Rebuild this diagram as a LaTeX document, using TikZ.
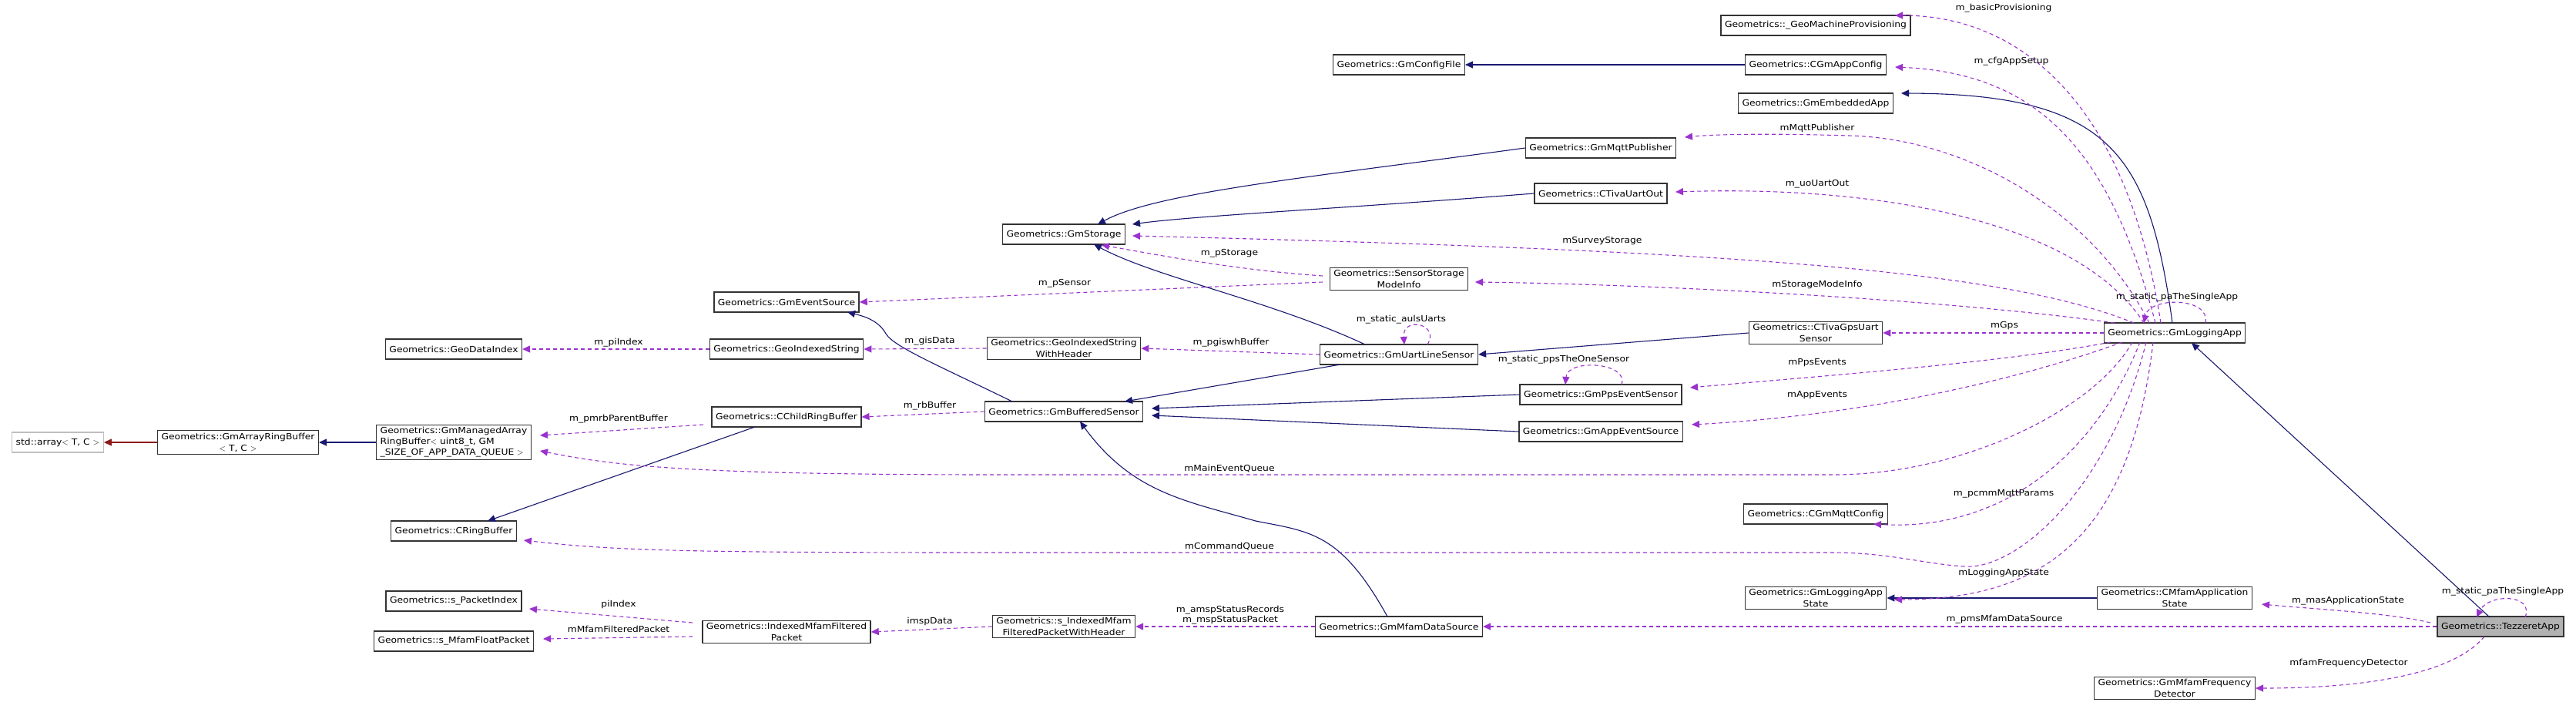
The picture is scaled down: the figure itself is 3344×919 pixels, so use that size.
\documentclass[tikz,border=0pt]{standalone}
\usepackage{fontspec}
\setmainfont[FakeStretch=1.12]{DejaVu Sans}
\usetikzlibrary{arrows.meta}
\definecolor{inh}{HTML}{191970}
\definecolor{comp}{HTML}{9A32CD}
\definecolor{tmpl}{HTML}{8B1A1A}
\begin{document}
\begin{tikzpicture}[x=1pt,y=-1pt,
  box/.style={draw=black!80,line width=1.3pt,fill=white,inner xsep=5pt,inner ysep=3pt,minimum height=26pt,align=center,font=\fontsize{11}{15}\selectfont},
  lbl/.style={font=\fontsize{11}{13}\selectfont,inner sep=1pt},
  tip/.style={-{Triangle[length=10pt,width=9pt]}},
  inhe/.style={tip,draw=inh,line width=1.1pt},
  use/.style={tip,draw=comp,line width=1.1pt,dash pattern=on 5pt off 4pt}]
\fill[white] (0,0) rectangle (3344,919);
\useasboundingbox (0,0) rectangle (3344,919);
% nodes
\node[box,draw=black!25] (arr) at (75,574) {std::array$<$ T, C $>$};
\node[box] (garb) at (309,574) {Geometrics::GmArrayRingBuffer\\$<$ T, C $>$};
\node[box,align=left,font=\fontsize{11}{14}\selectfont] (gmarb) at (589,574) {Geometrics::GmManagedArray\\RingBuffer$<$ uint8\_t, GM\\\_SIZE\_OF\_APP\_DATA\_QUEUE $>$};
\node[box] (gdi) at (589,453) {Geometrics::GeoDataIndex};
\node[box] (crb) at (589,689) {Geometrics::CRingBuffer};
\node[box] (spi) at (589,780) {Geometrics::s\_PacketIndex};
\node[box] (smfp) at (589,832) {Geometrics::s\_MfamFloatPacket};
\node[box] (ges) at (1021,392) {Geometrics::GmEventSource};
\node[box] (gis) at (1021,453) {Geometrics::GeoIndexedString};
\node[box] (ccrb) at (1021,541) {Geometrics::CChildRingBuffer};
\node[box] (imfp) at (1021,820) {Geometrics::IndexedMfamFiltered\\Packet};
\node[box] (gst) at (1381,304) {Geometrics::GmStorage};
\node[box] (giswh) at (1381,452) {Geometrics::GeoIndexedString\\WithHeader};
\node[box] (gbs) at (1381,534) {Geometrics::GmBufferedSensor};
\node[box] (simf) at (1381,813) {Geometrics::s\_IndexedMfam\\FilteredPacketWithHeader};
\node[box] (gcf) at (1816,84) {Geometrics::GmConfigFile};
\node[box] (ssmi) at (1816,362) {Geometrics::SensorStorage\\ModeInfo};
\node[box] (guls) at (1816,460) {Geometrics::GmUartLineSensor};
\node[box] (gmds) at (1816,813) {Geometrics::GmMfamDataSource};
\node[box] (gmp) at (2078,192) {Geometrics::GmMqttPublisher};
\node[box] (ctuo) at (2078,251) {Geometrics::CTivaUartOut};
\node[box] (gpes) at (2078,512) {Geometrics::GmPpsEventSensor};
\node[box] (gaes) at (2078,560) {Geometrics::GmAppEventSource};
\node[box] (gmpv) at (2357,33) {Geometrics::\_GeoMachineProvisioning};
\node[box] (cgac) at (2357,84) {Geometrics::CGmAppConfig};
\node[box] (gea) at (2357,134) {Geometrics::GmEmbeddedApp};
\node[box] (ctgs) at (2357,432) {Geometrics::CTivaGpsUart\\Sensor};
\node[box] (cgmc) at (2357,667) {Geometrics::CGmMqttConfig};
\node[box] (glas) at (2357,776) {Geometrics::GmLoggingApp\\State};
\node[box] (gla) at (2823,432) {Geometrics::GmLoggingApp};
\node[box] (cmas) at (2823,776) {Geometrics::CMfamApplication\\State};
\node[box] (gmfd) at (2823,893) {Geometrics::GmMfamFrequency\\Detector};
\node[box,fill=black!30] (tz) at (3246,813) {Geometrics::TezzeretApp};
% coordinates on boxes
\coordinate (a1) at (2805,419); \coordinate (a2) at (2798,419); \coordinate (a3) at (2820,419);
\coordinate (a4) at (2790,419); \coordinate (a5) at (2783,419); \coordinate (a6) at (2770,419);
\coordinate (a7) at (2745,419);
\coordinate (b1) at (2740,444); \coordinate (b2) at (2755,444); \coordinate (b3) at (2768,444);
\coordinate (b4) at (2778,444); \coordinate (b5) at (2786,444); \coordinate (b6) at (2795,444);
\coordinate (b7) at (2845,445);
% inheritance
\draw[inhe] (cgac.west) -- (gcf.east);
\draw[inhe] (a3) .. controls (2790,200) and (2740,122) .. (2468,121);
\draw[inhe] (gmp.west) .. controls (1700,230) and (1500,250) .. (1425,291);
\draw[inhe] (ctuo.west) .. controls (1750,270) and (1550,280) .. (1470,291);
\draw[inhe] (1772,447) .. controls (1650,390) and (1500,360) .. (1420,317);
\draw[inhe] (ctgs.west) -- (guls.east);
\draw[inhe] (1740,473) -- (1460,521);
\draw[inhe] (gpes.west) -- (1495,530);
\draw[inhe] (gaes.west) -- (1495,539);
\draw[inhe] (1801,800) .. controls (1740,690) and (1700,690) .. (1630,676) .. controls (1540,650) and (1470,640) .. (1402,547);
\draw[inhe] (1314,521) .. controls (1220,475) and (1160,450) .. (1150,433) .. controls (1140,415) and (1120,410) .. (1100,405);
\draw[inhe] (980,554) -- (633,676);
\draw[inhe] (gmarb.west) -- (garb.east);
\draw[tip,draw=tmpl,line width=1.1pt] (garb.west) -- (arr.east);
\draw[inhe] (cmas.west) -- (glas.east);
\draw[inhe] (3232,801) -- (b7);
% usage from GmLoggingApp
\draw[use] (a1) .. controls (2760,130) and (2620,20) .. (2460,20);
\draw[use] (a2) .. controls (2740,200) and (2650,95) .. (2460,87);
\draw[use] (a4) .. controls (2720,280) and (2560,180) .. (2400,176) .. controls (2300,173) and (2230,174) .. (2187,178);
\draw[use] (a5) .. controls (2700,290) and (2450,240) .. (2175,249);
\draw[use] (a6) .. controls (2600,350) and (2250,325) .. (1470,306);
\draw[use] (a7) .. controls (2500,385) and (2100,368) .. (1915,366);
\draw[use] (gla.west) -- (ctgs.east);
\draw[use] (2863,419) .. controls (2870,385) and (2790,385) .. (2783,419);
\draw[use] (b1) .. controls (2600,470) and (2400,485) .. (2194,503);
\draw[use] (b2) .. controls (2600,500) and (2400,540) .. (2196,551);
\draw[use] (b3) .. controls (2720,530) and (2550,616) .. (2380,616) -- (1300,616) .. controls (900,616) and (800,605) .. (701,585);
\draw[use] (b4) .. controls (2720,590) and (2600,690) .. (2432,680);
\draw[use] (b5) .. controls (2740,630) and (2620,740) .. (2550,735) .. controls (2500,732) and (2450,717) .. (2380,717) -- (1300,717) .. controls (900,717) and (800,715) .. (680,701);
\draw[use] (b6) .. controls (2765,700) and (2650,778) .. (2459,778);
% usage from TezzeretApp
\draw[use] (3278,801) .. controls (3290,770) and (3230,770) .. (3215,801);
\draw[use] (3155,808) .. controls (3100,795) and (3000,790) .. (2936,784);
\draw[use] (tz.west) -- (gmds.east);
\draw[use] (3225,826) .. controls (3180,880) and (3050,893) .. (gmfd.east);
% other usages
\draw[use] (1717,358) .. controls (1600,350) and (1500,330) .. (1430,318);
\draw[use] (1717,366) -- (ges.east);
\draw[use] (1853,447) .. controls (1870,420) and (1820,410) .. (1823,447);
\draw[use] (guls.west) -- (giswh.east);
\draw[use] (2105,499) .. controls (2115,470) and (2035,465) .. (2032,499);
\draw[use] (giswh.west) -- (gis.east);
\draw[use] (gis.west) -- (gdi.east);
\draw[use] (gbs.west) -- (ccrb.east);
\draw[use] (913,551) -- (701,565);
\draw[use] (899,808) -- (687,790);
\draw[use] (899,826) -- (705,829);
\draw[use] (simf.west) -- (imfp.east);
\draw[use] (gmds.west) -- (simf.east);
% labels
\node[lbl] (l1) at (2601,11) {m\_basicProvisioning};
\node[lbl] (l2) at (2611,80) {m\_cfgAppSetup};
\node[lbl] (l3) at (2359,166) {mMqttPublisher};
\node[lbl] (l4) at (2359,239) {m\_uoUartOut};
\node[lbl] (l5) at (2080,313) {mSurveyStorage};
\node[lbl] (l6) at (2359,369) {mStorageModeInfo};
\node[lbl] (l7) at (2602,423) {mGps};
\node[lbl] (l8) at (2826,386) {m\_static\_paTheSingleApp};
\node[lbl] (l9) at (2359,471) {mPpsEvents};
\node[lbl] (l10) at (2359,513) {mAppEvents};
\node[lbl] (l11) at (2601,641) {m\_pcmmMqttParams};
\node[lbl] (l12) at (2601,743) {mLoggingAppState};
\node[lbl] (l13) at (3048,780) {m\_masApplicationState};
\node[lbl] (l14) at (2602,804) {m\_pmsMfamDataSource};
\node[lbl] (l15) at (3049,860) {mfamFrequencyDetector};
\node[lbl] (l16) at (3249,768) {m\_static\_paTheSingleApp};
\node[lbl] (l17) at (1596,329) {m\_pStorage};
\node[lbl] (l18) at (1382,368) {m\_pSensor};
\node[lbl] (l19) at (1819,415) {m\_static\_aulsUarts};
\node[lbl] (l20) at (1598,445) {m\_pgiswhBuffer};
\node[lbl] (l21) at (2030,467) {m\_static\_ppsTheOneSensor};
\node[lbl] (l22) at (1207,443) {m\_gisData};
\node[lbl] (l23) at (803,445) {m\_piIndex};
\node[lbl] (l24) at (1207,527) {m\_rbBuffer};
\node[lbl] (l25) at (803,544) {m\_pmrbParentBuffer};
\node[lbl] (l26) at (1596,608) {mMainEventQueue};
\node[lbl] (l27) at (1596,709) {mCommandQueue};
\node[lbl,align=center] (l28) at (1597,798) {m\_amspStatusRecords\\m\_mspStatusPacket};
\node[lbl] (l29) at (1207,806) {imspData};
\node[lbl] (l30) at (803,784) {piIndex};
\node[lbl] (l31) at (803,816) {mMfamFilteredPacket};
\end{tikzpicture}
\end{document}
